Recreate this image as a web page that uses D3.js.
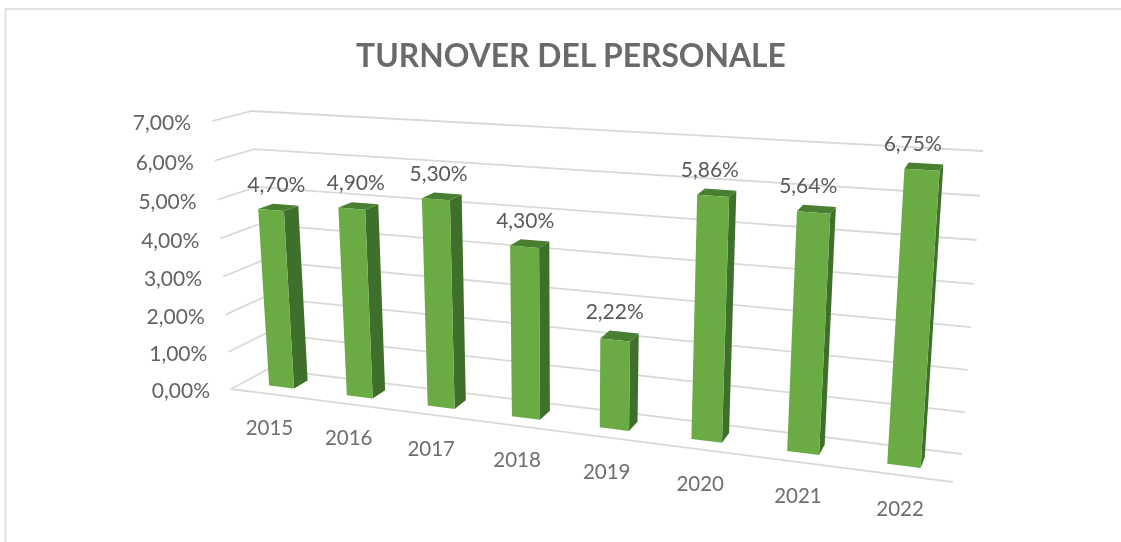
<!DOCTYPE html>
<html>
<head>
<meta charset="utf-8">
<script src="https://cdn.jsdelivr.net/npm/d3@7/dist/d3.min.js"></script>
<style>
html,body{margin:0;padding:0;background:#fff;overflow:hidden}
svg{display:block;filter:blur(0.35px)}
text{font-family:Lato,"Open Sans",sans-serif}
</style>
</head>
<body>
<div id="chart"></div>
<script>
const chartTitle = "TURNOVER DEL PERSONALE";
const categories = ["2015","2016","2017","2018","2019","2020","2021","2022"];
const values = [4.70,4.90,5.30,4.30,2.22,5.86,5.64,6.75];
const yTicks = [0,1,2,3,4,5,6,7];

const W = 1121, H = 542;
const svg = d3.select("#chart").append("svg").attr("width",W).attr("height",H);
const fmt = d3.formatLocale({decimal:",",thousands:".",grouping:[3],currency:["","€"]}).format(".2f");

// the 3D box as it appears on screen: corners [x,y], front/back, left/right, bottom/top
const box = {
  flb:[231,389], frb:[953,482], blb:[268,369], brb:[962,454],
  flt:[212,121], frt:[975,167], blt:[252,111], brt:[983,151]
};
// perspective warp along an axis
const warp = k => f => f/(1+k*(1-f));
const warpX = warp(0.185), warpY = warp(0.04);
const xBand = d3.scaleBand().domain(categories).range([0,1]).paddingInner(0.676).paddingOuter(0.338);
const yFrac = d3.scaleLinear().domain([0,7]).range([0,1]);
const lerp = (a,b,t)=>[a[0]+(b[0]-a[0])*t,a[1]+(b[1]-a[1])*t];
function project(t,v,d){
  const fx = warpX(t), fy = warpY(yFrac(v));
  const bottom = lerp(lerp(box.flb,box.frb,fx),lerp(box.blb,box.brb,fx),d);
  const top = lerp(lerp(box.flt,box.frt,fx),lerp(box.blt,box.brt,fx),d);
  return lerp(bottom,top,fy);
}
const poly = d3.line().curve(d3.curveLinearClosed);
const seg = d3.line();

// frame
svg.append("path").attr("d",`M${W},9H5.5V${H}`).attr("fill","none").attr("stroke","#e2e2e2").attr("stroke-width",2);

// title
svg.append("text").attr("x",571).attr("y",67).attr("text-anchor","middle")
  .attr("font-size",31.8).attr("font-weight",700).attr("fill","#6a6a6a").text(chartTitle);

const gridColor = "#d9d9d9";
const grid = svg.append("g").attr("fill","none").attr("stroke",gridColor).attr("stroke-width",1.8);
yTicks.forEach(v=>{
  grid.append("path").attr("d",seg([project(0,v,0),project(0,v,1),project(1,v,1)]));
});
grid.append("path").attr("d",seg([project(0,0,0),project(1,0,0)]));

// y labels
svg.append("g").selectAll("text").data(yTicks).join("text")
  .attr("x",v=>project(0,v,0)[0]-21)
  .attr("y",v=>project(0,v,0)[1]+2)
  .attr("dy","0.35em").attr("text-anchor","end").attr("font-size",21).attr("fill","#636363")
  .text(v=>fmt(v)+"%");

// bars
const d0 = 0.34, d1 = 0.73;
const bars = svg.append("g").selectAll("g").data(categories.map((c,i)=>({c,v:values[i]}))).join("g");
bars.each(function(b){
  const g = d3.select(this);
  const tl = xBand(b.c), tr = tl + xBand.bandwidth();
  g.append("path").attr("fill","#3f702b").attr("d",poly([
    project(tr,0,d0),project(tr,b.v,d0),project(tr,b.v,d1),project(tr,0,d1)]));
  g.append("path").attr("fill","#487f30").attr("d",poly([
    project(tl,b.v,d0),project(tr,b.v,d0),project(tr,b.v,d1),project(tl,b.v,d1)]));
  g.append("path").attr("fill","#6aab43").attr("d",poly([
    project(tl,0,d0),project(tr,0,d0),project(tr,b.v,d0),project(tl,b.v,d0)]));
});

// value labels
svg.append("g").selectAll("text").data(categories.map((c,i)=>({c,v:values[i]}))).join("text")
  .attr("x",b=>project(xBand(b.c)+xBand.bandwidth()/2,b.v/2,d0)[0])
  .attr("y",b=>project(xBand(b.c)+xBand.bandwidth()/2,b.v,d1)[1]-20)
  .attr("dy","0.35em").attr("text-anchor","middle").attr("font-size",21).attr("fill","#595959")
  .text(b=>fmt(b.v)+"%");

// category labels
svg.append("g").selectAll("text").data(categories).join("text")
  .attr("x",c=>project(xBand(c)+xBand.bandwidth()/2,0,0)[0])
  .attr("y",c=>project(xBand(c)+xBand.bandwidth()/2,0,0)[1]+34)
  .attr("dy","0.35em").attr("text-anchor","middle").attr("font-size",20.5).attr("fill","#6e6e6e")
  .text(c=>c);
</script>
</body>
</html>
